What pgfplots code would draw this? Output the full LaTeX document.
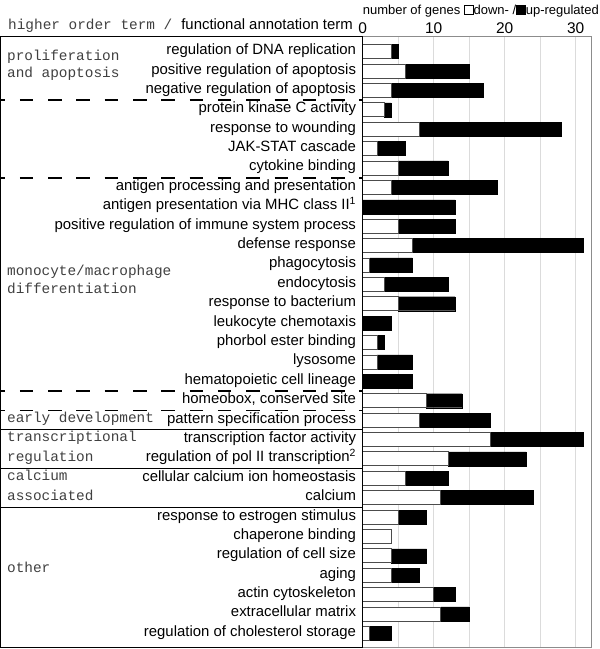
\documentclass[border=0pt]{standalone}
\usepackage{fontspec}
\setmainfont{Liberation Sans}
\newfontfamily\cour{Liberation Mono}
\usepackage{pgfplots}
\pgfplotsset{compat=1.18}
\usepackage{pgfplotstable}

% number of genes per term: down- and up-regulated
\pgfplotstableread{
row down up
0  4  1
1  6  9
2  4  13
3  3  1
4  8  20
5  2  4
6  5  7
7  4  15
8  0  13
9  5  8
10 7  24
11 1  6
12 3  9
13 5  8
14 0  4
15 2  1
16 2  5
17 0  7
18 9  5
19 8  10
20 18 13
21 12 11
22 6  6
23 11 13
24 5  4
25 4  0
26 4  5
27 4  4
28 10 3
29 11 4
30 1  3
}\genes

\definecolor{gridgray}{gray}{0.86}
\definecolor{framegray}{gray}{0.55}
\definecolor{barline}{gray}{0.3}
\definecolor{groupgray}{gray}{0.25}

\newcommand{\lab}{\fontsize{14.9}{17}\selectfont}
\newcommand{\grp}{\cour\fontsize{14.4}{17}\selectfont\color{groupgray}}
\newcommand{\sq}[1]{\tikz[baseline=0pt]\draw[fill=#1,line width=0.6pt] (0,0) rectangle (9pt,9pt);}
\tikzset{grp/.style={anchor=west, inner sep=0pt, font=\grp, text height=0.6em, text depth=0.1em}}

\begin{document}
\begin{tikzpicture}
\useasboundingbox (0pt,0pt) rectangle (600pt,649pt);
\begin{axis}[
  at={(362.7pt,1.5pt)}, anchor=south west,
  scale only axis, width=228.3pt, height=610.8pt,
  xbar stacked, bar width=14pt,
  xmin=0, xmax=32.15,
  ymin=-0.77, ymax=30.73, y dir=reverse,
  xtick={0,10,20,30}, minor xtick={5,15,25},
  xticklabel pos=upper,
  xmajorgrids, xminorgrids,
  grid style={draw=gridgray, line width=0.6pt},
  minor grid style={draw=gridgray, line width=0.6pt},
  major tick length=0pt, minor tick length=0pt,
  ytick={0,...,30},
  yticklabels={
    regulation of DNA replication,
    positive regulation of apoptosis,
    negative regulation of apoptosis,
    protein kinase C activity,
    response to wounding,
    JAK-STAT cascade,
    cytokine binding,
    antigen processing and presentation,
    antigen presentation via MHC class II\textsuperscript{1},
    positive regulation of immune system process,
    defense response,
    phagocytosis,
    endocytosis,
    response to bacterium,
    leukocyte chemotaxis,
    phorbol ester binding,
    lysosome,
    hematopoietic cell lineage,
    {homeobox, conserved site},
    pattern specification process,
    transcription factor activity,
    regulation of pol II transcription\textsuperscript{2},
    cellular calcium ion homeostasis,
    calcium,
    response to estrogen stimulus,
    chaperone binding,
    regulation of cell size,
    aging,
    actin cytoskeleton,
    extracellular matrix,
    regulation of cholesterol storage},
  yticklabel style={font=\lab, anchor=east, inner sep=0pt, xshift=-6.5pt,
    text height=0.75em, text depth=0.15em},
  xticklabel style={font=\fontsize{15.5}{15.5}\selectfont, inner sep=0pt,
    anchor=south, yshift=3pt},
  /pgf/number format/assume math mode=true,
  axis line style={draw=framegray, line width=0.8pt},
  clip=false,
]
\addplot[fill=white, draw=barline, line width=0.7pt] table[x=down, y=row] {\genes};
\addplot[fill=black, draw=black, line width=0.3pt] table[x=up, y=row] {\genes};

% group separators in the left panel
\pgfplotsinvokeforeach{2.5,6.5,17.5,18.5}{
  \draw[line width=1.7pt, dash pattern=on 13.5pt off 14.8pt, dash phase=9pt]
    (axis cs:-51.0,#1) -- (axis cs:0,#1);
}
\pgfplotsinvokeforeach{19.5,21.5,23.5}{
  \draw[line width=1.2pt] (axis cs:-51.0,#1) -- (axis cs:0,#1);
}

% higher order terms
\node[grp] at (axis cs:-50.1,0.33) {proliferation};
\node[grp] at (axis cs:-50.1,1.22) {and apoptosis};
\node[grp] at (axis cs:-50.1,11.4) {monocyte/macrophage};
\node[grp] at (axis cs:-50.1,12.33) {differentiation};
\node[grp] at (axis cs:-50.1,19) {early development};
\node[grp] at (axis cs:-50.1,20) {transcriptional};
\node[grp] at (axis cs:-50.1,21) {regulation};
\node[grp] at (axis cs:-50.1,22) {calcium};
\node[grp] at (axis cs:-50.1,23) {associated};
\node[grp] at (axis cs:-50.1,26.73) {other};
\end{axis}

\draw[line width=1.2pt] (0.6pt,1.5pt) rectangle (362.7pt,612.3pt);

\node[anchor=base west, inner sep=0pt] at (8pt,619pt) {\grp higher order term /};
\node[anchor=base east, inner sep=0pt] at (353pt,619pt) {\lab functional annotation term};
\node[anchor=base east, inner sep=0pt] at (599pt,634.5pt)
  {\fontsize{13}{13}\selectfont number of genes \sq{white}down- /\sq{black}up-regulated};
\end{tikzpicture}
\end{document}
